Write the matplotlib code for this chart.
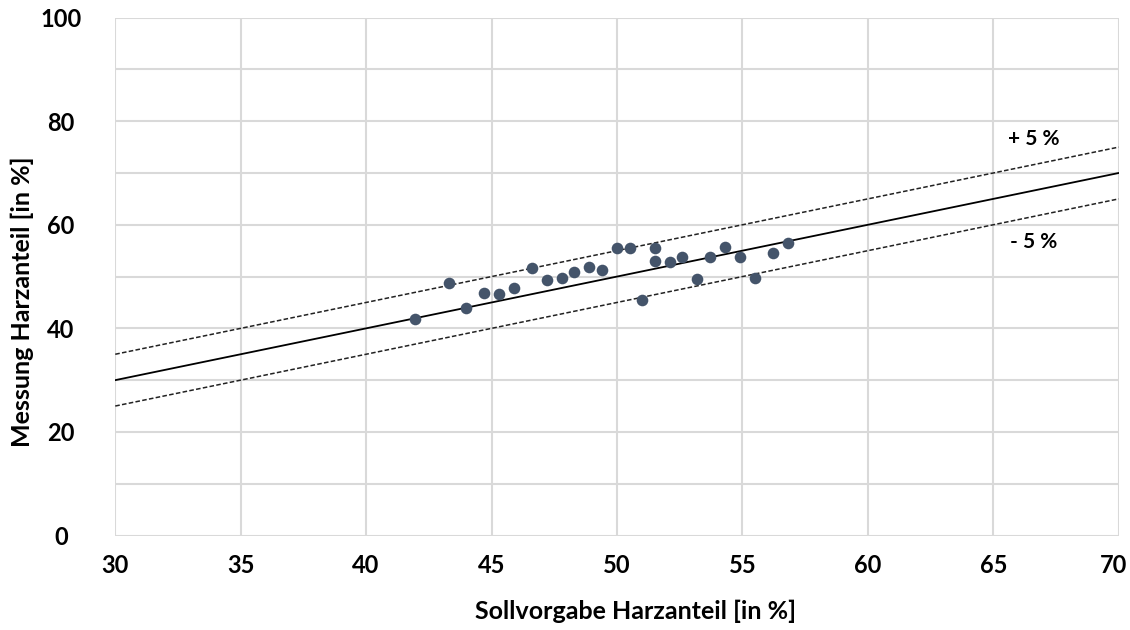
import numpy as np
import matplotlib.pyplot as plt
import matplotlib.transforms as mtransforms

plt.rcParams['font.family'] = ['Lato', 'DejaVu Sans']

# Sollvorgabe / Messung (in %)
soll = [41.95, 43.3, 44.0, 44.7, 45.3, 45.9, 46.6, 47.2, 47.8, 48.3, 48.9, 49.4, 50.0,
        50.5, 51.0, 51.5, 51.5, 52.1, 52.6, 53.2, 53.7, 54.3, 54.9, 55.5, 56.2, 56.8]
messung = [41.9, 48.8, 44.0, 46.9, 46.6, 47.7, 51.6, 49.3, 49.7, 50.9, 51.8, 51.3, 55.5,
           55.6, 45.5, 55.6, 53.0, 52.8, 53.8, 49.5, 53.8, 55.8, 53.7, 49.7, 54.6, 56.4]

line_x = np.array([30, 70])
tol = 5

fig = plt.figure(figsize=(11.3, 6.3), dpi=100)
ax = fig.add_axes([0.102, 0.150, 0.888, 0.822])

ax.plot(line_x, line_x, color='black', lw=1.3, zorder=2)
ax.plot(line_x, line_x + tol, color='#222222', lw=1.1, ls=(0, (3, 1.5)), zorder=2)
ax.plot(line_x, line_x - tol, color='#222222', lw=1.1, ls=(0, (3, 1.5)), zorder=2)
ax.scatter(soll, messung, s=70, color='#44546a', zorder=3, linewidths=0)

ax.text(66.6, 76.5, '+ 5 %', fontsize=15, fontweight='bold', ha='center', va='center')
ax.text(66.6, 56.6, '- 5 %', fontsize=15, fontweight='bold', ha='center', va='center')

ax.set_xlim(30, 70)
ax.set_ylim(0, 100)
ax.set_xticks(np.arange(30, 71, 5))
ax.set_yticks(np.arange(0, 101, 20))
ax.set_yticks(np.arange(0, 101, 10), minor=True)
ax.grid(True, which='both', color='#d9d9d9', lw=1.5)
ax.set_axisbelow(True)
for s in ax.spines.values():
    s.set_visible(False)
ax.tick_params(which='both', length=0)
ax.tick_params(axis='y', pad=39)
ax.tick_params(axis='x', pad=13)
for lab in ax.get_xticklabels() + ax.get_yticklabels():
    lab.set_fontsize(17)
    lab.set_fontweight('bold')
for lab in ax.get_yticklabels():
    lab.set_horizontalalignment('center')

ax.set_xlabel('Sollvorgabe Harzanteil [in %]', fontsize=18, fontweight='bold')
ax.set_ylabel('Messung Harzanteil [in %]', fontsize=18, fontweight='bold')
ax.xaxis.set_label_coords(0.519, -0.147)
ax.yaxis.set_label_coords(-0.093, 0.451)
ax.xaxis.label.set_va('center')
ax.yaxis.label.set_va('center')

# letztes Label etwas nach innen schieben (wie in Excel)
last = ax.get_xticklabels()[-1]
last.set_transform(last.get_transform() +
                   mtransforms.ScaledTranslation(-5 / 100, 0, fig.dpi_scale_trans))

fig.savefig('out.png', dpi=100)
